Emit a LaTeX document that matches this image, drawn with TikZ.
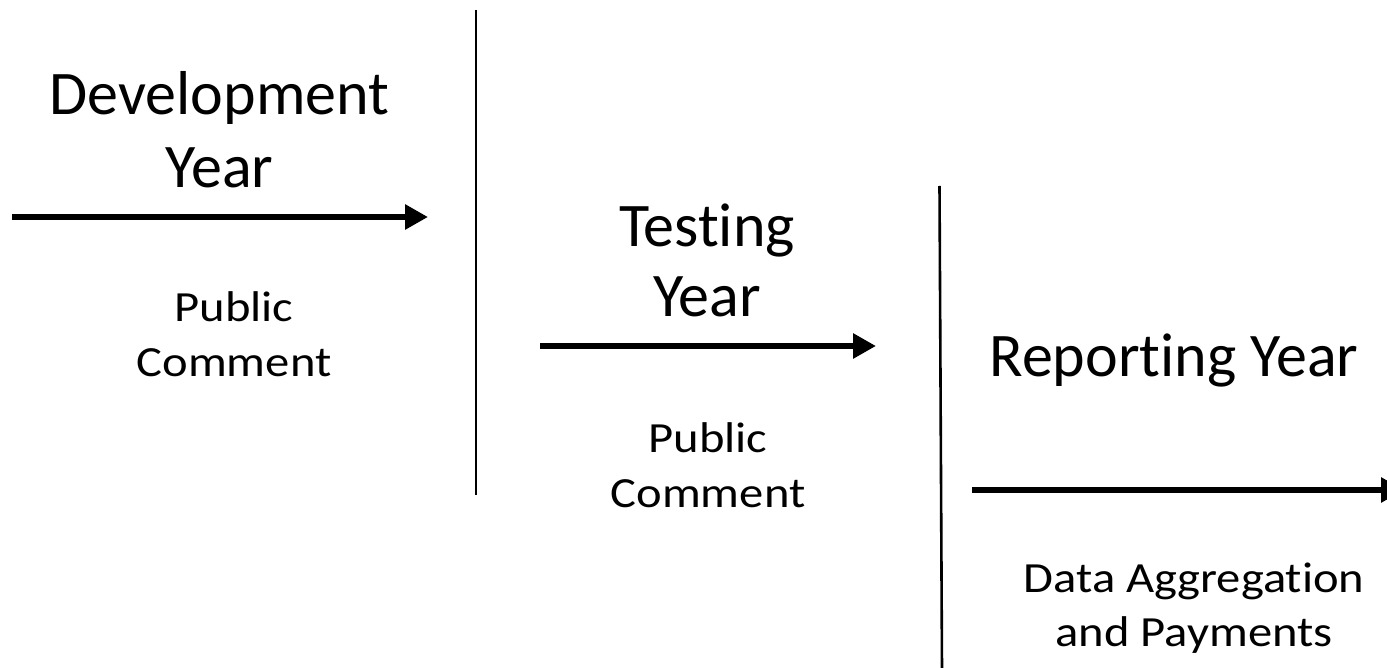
\documentclass[tikz,border=0pt]{standalone}
\usepackage{fontspec}
\setmainfont[Ligatures={NoCommon,NoContextual}]{Carlito}
\newfontfamily\smallfam[FakeStretch=1.13,Ligatures={NoCommon,NoContextual}]{Carlito}
\usetikzlibrary{arrows.meta}
\newcommand{\ti}{t\kern0pt i}
\tikzset{
  big/.style={inner sep=0pt, anchor=base, font=\fontsize{62}{72}\selectfont},
  small/.style={inner sep=0pt, anchor=base, font=\smallfam\fontsize{43}{54}\selectfont},
  timearrow/.style={line width=6.5pt, -{Triangle[length=23pt,width=24pt]}},
  divider/.style={line width=2.6pt}
}
\begin{document}
\begin{tikzpicture}[x=1pt,y=-1pt]
\useasboundingbox (0,0) rectangle (1387,668);
\clip (0,0) rectangle (1387,668);
% dividers
\coordinate (d1a) at (476,10);
\coordinate (d1b) at (476,495);
\coordinate (d2a) at (939.5,186);
\coordinate (d2b) at (942,670);
\draw[divider] (d1a) -- (d1b);
\draw[divider] (d2a) -- (d2b);
% arrows
\coordinate (a1s) at (12,217);
\coordinate (a1e) at (428,217);
\coordinate (a2s) at (540,346);
\coordinate (a2e) at (876,346);
\coordinate (a3s) at (972,490);
\coordinate (a3e) at (1404,490);
\draw[timearrow] (a1s) -- (a1e);
\draw[timearrow] (a2s) -- (a2e);
\draw[timearrow] (a3s) -- (a3e);
% texts
\node[big] (dev1) at (219.5,115) {Development};
\node[big] (dev2) at (219.5,188) {Year};
\node[small] (pc1a) at (234,322) {Public};
\node[small] (pc1b) at (234,376) {Comment};
\node[big] (test1) at (707,247) {Tes\ti ng};
\node[big] (test2) at (707,317) {Year};
\node[small] (pc2a) at (708,452) {Public};
\node[small] (pc2b) at (708,507) {Comment};
\node[big] (rep) at (1174,377) {Repor\ti ng Year};
\node[small] (data1) at (1194,592) {Data Aggrega\ti on};
\node[small] (data2) at (1194,646) {and Payments};
\end{tikzpicture}
\end{document}
